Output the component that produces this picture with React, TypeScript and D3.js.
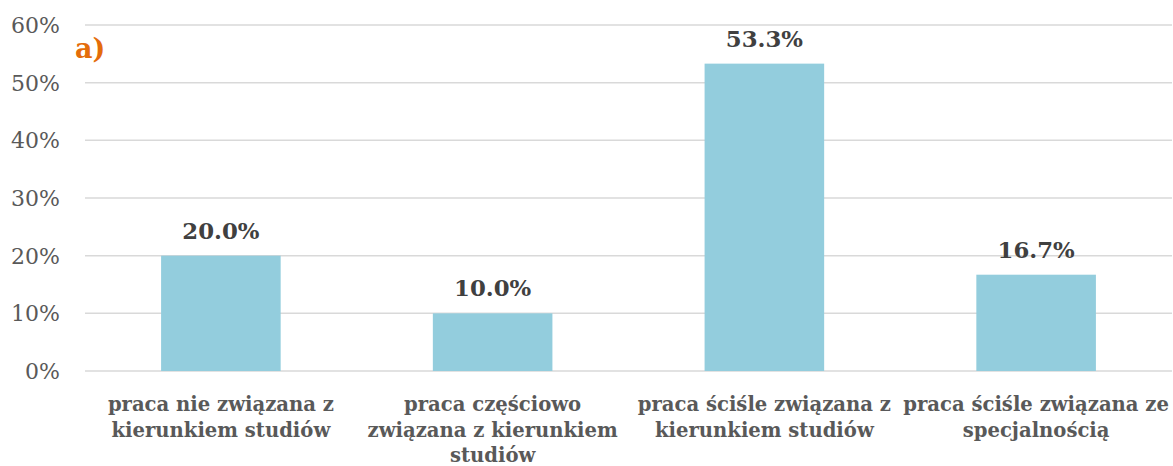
import React from "react";
import * as d3 from "d3";

const categories: string[][] = [
  ["praca nie związana z", "kierunkiem studiów"],
  ["praca częściowo", "związana z kierunkiem", "studiów"],
  ["praca ściśle związana z", "kierunkiem studiów"],
  ["praca ściśle związana ze", "specjalnością"],
];
const values: number[] = [20.0, 10.0, 53.3, 16.7];
const yTicks: number[] = [0, 10, 20, 30, 40, 50, 60];

const W = 1173;
const H = 466;
const left = 85;
const right = 1172;
const top = 25;
const bottom = 371;
const FONT = "'DejaVu Serif', 'Liberation Serif', serif";

export default function App() {
  const x = d3
    .scaleBand<number>()
    .domain(values.map((_, i) => i))
    .range([left, right])
    .paddingInner(0.56)
    .paddingOuter(0.28);
  const y = d3.scaleLinear().domain([0, 60]).range([bottom, top]);

  return (
    <svg width={W} height={H} style={{ position: "absolute", left: 0, top: 0, background: "#fff" }}>
      {yTicks.map((t) => (
        <g key={t}>
          <line x1={left} x2={right} y1={y(t)} y2={y(t)} stroke="#d9d9d9" strokeWidth={1.5} />
          <text
            x={60}
            y={y(t)}
            dy="0.36em"
            textAnchor="end"
            fontFamily={FONT}
            fontSize={22}
            fill="#595959"
          >
            {t}%
          </text>
        </g>
      ))}
      {values.map((v, i) => (
        <g key={i}>
          <rect x={x(i)} y={y(v)} width={x.bandwidth()} height={y(0) - y(v)} fill="#93CDDD" />
          <text
            x={(x(i) as number) + x.bandwidth() / 2}
            y={y(v) - 17}
            textAnchor="middle"
            fontFamily={FONT}
            fontWeight="bold"
            fontSize={22.8}
            fill="#404040"
          >
            {v.toFixed(1)}%
          </text>
          {categories[i].map((line, j) => (
            <text
              key={j}
              x={(x(i) as number) + x.bandwidth() / 2}
              y={411 + j * 25.5}
              textAnchor="middle"
              fontFamily={FONT}
              fontWeight="bold"
              fontSize={19.6}
              fill="#595959"
            >
              {line}
            </text>
          ))}
        </g>
      ))}
      <text x={75} y={58} fontFamily={FONT} fontWeight="bold" fontSize={27} fill="#E46C0A">
        a)
      </text>
    </svg>
  );
}
